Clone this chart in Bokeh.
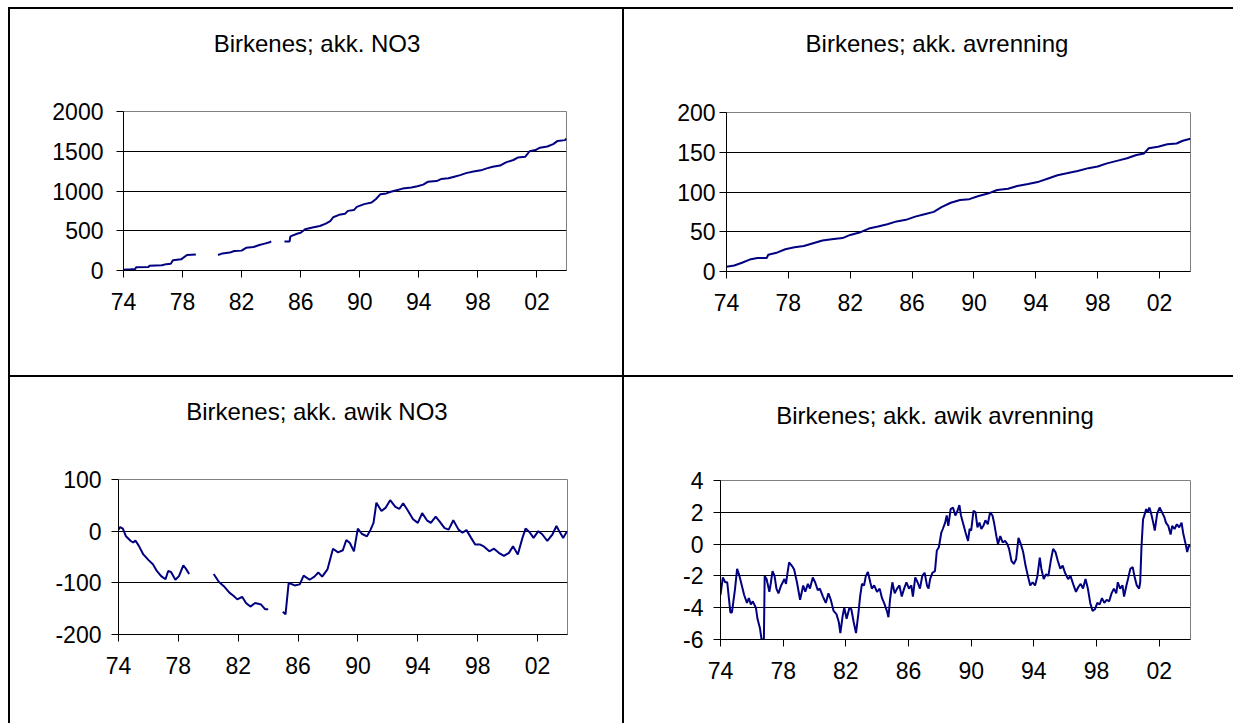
from bokeh.plotting import figure
from bokeh.layouts import row, column
from bokeh.models import Div, FixedTicker
from bokeh.embed import file_html
from bokeh.resources import INLINE

NAN = float("nan")

# ---------------- data ----------------
x_ticks = [1974, 1978, 1982, 1986, 1990, 1994, 1998, 2002]
x_tick_labels = ["74", "78", "82", "86", "90", "94", "98", "02"]

titles = ["Birkenes; akk. NO3", "Birkenes; akk. avrenning",
          "Birkenes; akk. awik NO3", "Birkenes; akk. awik avrenning"]

no3_years = [1974.00, 1974.50, 1974.80, 1974.85, 1975.70, 1975.75, 1976.60, 1976.90, 1977.20,
             1977.35, 1977.90, 1978.30, 1978.90, NAN,
             1980.40, 1980.70, 1981.20, 1981.50, 1982.00, 1982.30, 1982.80, 1983.20, 1983.50,
             1983.90, 1984.00, NAN,
             1984.90, 1985.25, 1985.30, 1985.80, 1986.00, 1986.30, 1986.80, 1987.30, 1987.70,
             1988.00, 1988.20, 1988.60, 1989.00, 1989.20, 1989.60, 1989.80, 1990.30, 1990.80,
             1991.10, 1991.40, 1991.80, 1992.10, 1992.50, 1992.90, 1993.50, 1993.90, 1994.30,
             1994.60, 1995.20, 1995.50, 1996.00, 1996.40, 1996.80, 1997.20, 1997.70, 1998.20,
             1998.60, 1999.00, 1999.50, 1999.90, 2000.40, 2000.70, 2001.20, 2001.50, 2001.90,
             2002.20, 2002.70, 2003.10, 2003.40, 2003.90, 2004.00]
no3_values = [10, 15, 20, 40, 45, 60, 65, 80, 85,
              130, 140, 195, 200, NAN,
              195, 215, 225, 245, 250, 285, 295, 320, 335,
              355, 365, NAN,
              365, 365, 430, 465, 475, 520, 540, 560, 590,
              620, 670, 700, 715, 750, 760, 800, 835, 855,
              900, 960, 970, 990, 1010, 1030, 1045, 1060, 1080,
              1115, 1125, 1150, 1160, 1180, 1200, 1225, 1245, 1260,
              1285, 1305, 1320, 1360, 1390, 1420, 1430, 1500, 1515,
              1545, 1560, 1590, 1630, 1640, 1660]

runoff_years = [1974.0, 1974.5, 1975.0, 1975.5, 1976.0, 1976.6, 1976.7, 1977.3, 1977.8, 1978.4,
                1979.0, 1979.6, 1980.2, 1980.8, 1981.5, 1982.0, 1982.6, 1983.2, 1983.8, 1984.4,
                1985.0, 1985.6, 1986.2, 1986.8, 1987.4, 1987.9, 1988.5, 1989.1, 1989.7, 1990.3,
                1990.9, 1991.5, 1992.2, 1992.8, 1993.5, 1994.2, 1994.8, 1995.4, 1996.0, 1996.7,
                1997.4, 1998.0, 1998.6, 1999.3, 1999.9, 2000.5, 2001.0, 2001.3, 2001.9, 2002.5,
                2003.1, 2003.5, 2004.0]
runoff_values = [6, 7.5, 11, 15, 17, 17, 21, 24, 28, 30.5,
                 32, 35.5, 39, 40.5, 42, 46, 49, 54, 56.5, 59.5,
                 63, 65, 69, 72, 75, 81, 86.5, 90, 91, 95,
                 98, 102.5, 104, 107.5, 110, 113, 117, 121, 123.5, 126.5,
                 130, 132, 136, 139.5, 142.5, 146.5, 148.5, 155, 157, 160,
                 161, 164.5, 167]

dev_no3_years = [1974.00, 1974.11, 1974.29, 1974.50, 1974.82, 1974.98, 1975.13, 1975.35, 1975.66,
                 1976.01, 1976.30, 1976.56, 1976.85, 1977.14, 1977.32, 1977.51, 1977.80, 1978.04,
                 1978.33, 1978.51, 1978.72, NAN,
                 1980.36, 1980.70, 1981.02, 1981.41, 1981.68, 1981.94, 1982.26, 1982.52, 1982.81,
                 1983.13, 1983.53, 1983.79, 1984.00, NAN,
                 1984.98, 1985.16, 1985.37, 1985.77, 1986.11, 1986.37, 1986.77, 1987.09, 1987.35,
                 1987.61, 1987.96, 1988.33, 1988.67, 1988.99, 1989.22, 1989.46, 1989.73, 1989.99,
                 1990.25, 1990.60, 1990.83, 1991.04, 1991.23, 1991.57, 1991.84, 1992.15, 1992.50,
                 1992.76, 1993.02, 1993.29, 1993.68, 1994.00, 1994.29, 1994.61, 1994.87, 1995.19,
                 1995.45, 1995.79, 1996.06, 1996.37, 1996.72, 1996.98, 1997.25, 1997.56, 1997.83,
                 1998.17, 1998.43, 1998.78, 1999.09, 1999.41, 1999.75, 2000.09, 2000.36, 2000.68,
                 2000.99, 2001.20, 2001.47, 2001.73, 2002.05, 2002.31, 2002.65, 2003.00, 2003.26,
                 2003.45, 2003.71, 2003.97]
dev_no3_values = [3, 8, 5, -10, -19, -22, -18, -28, -45,
                  -56, -64, -77, -87, -93, -77, -79, -94, -87,
                  -66, -73, -83, NAN,
                  -83, -98, -106, -119, -125, -132, -127, -139, -146,
                  -139, -142, -151, -151, NAN,
                  -156, -161, -100, -105, -103, -86, -94, -88, -80,
                  -88, -74, -34, -41, -37, -17, -23, -39, 5,
                  -5, -10, 2, 16, 55, 39, 45, 60, 47,
                  43, 54, 42, 23, 16, 35, 21, 16, 28,
                  19, 6, 3, 21, 3, -3, 2, -13, -26,
                  -26, -30, -39, -34, -42, -48, -42, -29, -45,
                  -13, 5, -2, -13, 0, -6, -19, -6, 10,
                  0, -13, 0]

dev_runoff_years = [1974.00, 1974.15, 1974.30, 1974.43, 1974.63, 1974.73, 1974.81, 1974.93, 1975.06,
                    1975.21, 1975.36, 1975.51, 1975.69, 1975.81, 1975.94, 1976.06, 1976.26, 1976.36,
                    1976.52, 1976.62, 1976.77, 1976.82, 1976.94, 1977.12, 1977.22, 1977.32, 1977.45,
                    1977.57, 1977.70, 1977.87, 1978.08, 1978.18, 1978.28, 1978.38, 1978.58, 1978.70,
                    1978.88, 1979.08, 1979.28, 1979.41, 1979.58, 1979.71, 1979.89, 1980.04, 1980.21,
                    1980.34, 1980.54, 1980.72, 1980.89, 1981.04, 1981.22, 1981.40, 1981.55, 1981.65,
                    1981.80, 1981.90, 1982.05, 1982.23, 1982.35, 1982.50, 1982.65, 1982.81, 1982.91,
                    1983.03, 1983.16, 1983.28, 1983.41, 1983.56, 1983.66, 1983.81, 1983.99, 1984.16,
                    1984.31, 1984.44, 1984.62, 1984.72, 1984.82, 1984.97, 1985.12, 1985.27, 1985.42,
                    1985.57, 1985.72, 1985.87, 1986.03, 1986.18, 1986.28, 1986.43, 1986.58, 1986.73,
                    1986.88, 1987.03, 1987.18, 1987.28, 1987.38, 1987.53, 1987.69, 1987.81, 1987.94,
                    1988.09, 1988.19, 1988.34, 1988.44, 1988.54, 1988.69, 1988.84, 1988.99, 1989.09,
                    1989.25, 1989.35, 1989.50, 1989.65, 1989.80, 1989.90, 1990.00, 1990.15, 1990.28,
                    1990.40, 1990.53, 1990.65, 1990.78, 1990.91, 1991.06, 1991.21, 1991.36, 1991.46,
                    1991.61, 1991.71, 1991.86, 1992.01, 1992.16, 1992.31, 1992.42, 1992.57, 1992.72,
                    1992.87, 1993.02, 1993.17, 1993.32, 1993.47, 1993.62, 1993.77, 1993.92, 1994.08,
                    1994.23, 1994.38, 1994.48, 1994.63, 1994.78, 1994.93, 1995.08, 1995.23, 1995.38,
                    1995.53, 1995.69, 1995.84, 1995.99, 1996.19, 1996.34, 1996.54, 1996.69, 1996.84,
                    1996.99, 1997.14, 1997.30, 1997.45, 1997.60, 1997.75, 1997.90, 1998.05, 1998.20,
                    1998.35, 1998.50, 1998.65, 1998.81, 1998.96, 1999.11, 1999.26, 1999.36, 1999.51,
                    1999.66, 1999.76, 1999.91, 2000.01, 2000.16, 2000.31, 2000.42, 2000.57, 2000.72,
                    2000.79, 2000.87, 2000.97, 2001.07, 2001.17, 2001.27, 2001.37, 2001.47, 2001.62,
                    2001.72, 2001.87, 2002.03, 2002.18, 2002.33, 2002.43, 2002.58, 2002.73, 2002.83,
                    2002.98, 2003.13, 2003.28, 2003.43, 2003.53, 2003.69, 2003.79, 2003.89, 2003.99]
dev_runoff_values = [-3.2, -2.1, -2.4, -2.4, -4.3, -4.3, -3.7, -2.8, -1.55,
                     -2.0, -2.6, -3.2, -3.7, -3.4, -3.8, -3.6, -4.0, -4.7,
                     -5.3, -6.0, -6.0, -2.0, -2.2, -3.0, -2.4, -1.7, -2.0,
                     -2.8, -3.1, -2.6, -2.2, -2.5, -1.8, -1.15, -1.4, -1.6,
                     -2.4, -3.5, -2.6, -3.0, -2.5, -2.8, -2.1, -2.4, -2.9,
                     -2.8, -3.3, -3.7, -3.1, -3.5, -4.2, -4.4, -4.9, -5.6,
                     -4.5, -4.0, -4.7, -4.0, -4.1, -4.9, -5.6, -4.3, -3.3,
                     -2.5, -2.6, -2.0, -1.75, -2.4, -2.8, -2.6, -3.0, -2.8,
                     -3.4, -3.7, -4.2, -4.6, -3.5, -2.4, -3.1, -2.8, -2.6,
                     -3.3, -2.8, -2.4, -2.8, -2.6, -3.3, -2.1, -2.4, -2.8,
                     -2.0, -1.8, -2.6, -2.8, -2.2, -1.8, -1.7, -0.4, -0.2,
                     0.7, 0.95, 1.35, 1.8, 1.15, 2.2, 2.3, 1.8, 2.0,
                     2.45, 1.8, 1.25, 0.7, 0.2, 0.95, 0.85, 2.1, 2.0,
                     1.05, 1.35, 0.95, 1.15, 1.5, 1.25, 2.0, 1.8, 1.35,
                     0.5, 0.0, 0.5, 0.1, 0.2, 0.0, -0.3, -1.05, -1.25,
                     -0.95, 0.4, 0.0, -0.5, -1.35, -2.0, -2.6, -2.4, -2.6,
                     -2.0, -0.85, -1.55, -2.2, -1.9, -2.0, -1.05, -0.3, -0.5,
                     -1.05, -1.55, -1.35, -1.8, -2.2, -2.0, -2.6, -3.0, -2.7,
                     -2.5, -2.8, -2.2, -2.8, -3.7, -4.2, -4.1, -3.7, -3.8,
                     -3.4, -3.7, -3.5, -3.6, -3.1, -2.8, -3.1, -2.4, -2.8,
                     -2.6, -3.3, -2.6, -2.2, -1.55, -1.45, -2.0, -2.6, -2.8,
                     -2.4, -0.2, 1.55, 1.85, 2.2, 2.0, 2.3, 2.0, 1.35,
                     0.85, 1.9, 2.3, 2.0, 1.7, 1.35, 1.15, 0.6, 1.15,
                     0.95, 1.25, 1.05, 1.35, 0.7, 0.0, -0.5, -0.1, -0.15]

# ---------------- styling helpers ----------------
FONT = "Liberation Sans"
LINE_COLOR = "#000080"


def make_panel(xs, ys, y_start, y_end, y_ticks, grid_ticks, width, height,
               border_left, border_right, border_top, border_bottom, y_standoff):
    p = figure(width=width, height=height, output_backend="svg", toolbar_location=None,
               x_range=(1974, 2004), y_range=(y_start, y_end),
               min_border_left=border_left, min_border_right=border_right,
               min_border_top=border_top, min_border_bottom=border_bottom)
    p.background_fill_color = "white"
    p.border_fill_color = "white"
    p.outline_line_color = "#808080"
    p.outline_line_width = 1

    p.xgrid.visible = False
    p.ygrid.ticker = FixedTicker(ticks=grid_ticks)
    p.ygrid.grid_line_color = "black"
    p.ygrid.grid_line_width = 1

    for ax in (p.xaxis, p.yaxis):
        ax.axis_line_color = "black"
        ax.axis_line_width = 1
        ax.major_tick_line_color = "black"
        ax.major_tick_out = 7
        ax.major_tick_in = 0
        ax.minor_tick_line_color = None
        ax.major_label_text_font = FONT
        ax.major_label_text_font_size = "23px"
        ax.major_label_text_color = "black"

    p.xaxis.ticker = FixedTicker(ticks=x_ticks)
    p.xaxis.major_label_overrides = {t: lab for t, lab in zip(x_ticks, x_tick_labels)}
    p.xaxis.major_label_standoff = 15
    p.yaxis.ticker = FixedTicker(ticks=y_ticks)
    p.yaxis.major_label_overrides = {t: str(t) for t in y_ticks}
    p.yaxis.major_label_standoff = y_standoff

    p.line(xs, ys, line_color=LINE_COLOR, line_width=2)
    return p


def title_div(text, width, height, line_h, shift):
    html = (f'<div style="width: {width}px; box-sizing: border-box; '
            'font-family: \'Liberation Sans\', Arial, sans-serif; '
            'font-size: 24px; color: black; text-align: center; white-space: nowrap; '
            f'line-height: {line_h}px; padding-left: {shift}px; margin: 0;">{text}</div>')
    return Div(text=html, width=width, height=height, margin=0,
               styles={"font-family": "'Liberation Sans', Arial, sans-serif",
                       "font-size": "24px", "line-height": f"{line_h}px",
                       "background-color": "white"})


TOP_H = 366
BOT_H = 346
LEFT_W = 612
RIGHT_W = 609
T_TOP = 70
T_BOT = 78

p1 = make_panel(no3_years, no3_values, 0, 2000, [0, 500, 1000, 1500, 2000],
                [500, 1000, 1500], LEFT_W, TOP_H - T_TOP, 113, 56, 102 - T_TOP, 105, 13)
p2 = make_panel(runoff_years, runoff_values, 0, 200, [0, 50, 100, 150, 200],
                [50, 100, 150], RIGHT_W, TOP_H - T_TOP, 102, 43, 103 - T_TOP, 104, 4)
p3 = make_panel(dev_no3_years, dev_no3_values, -200, 100, [-200, -100, 0, 100],
                [-100, 0], LEFT_W, BOT_H - T_BOT, 108, 55, 102 - T_BOT, 89, 10)
p4 = make_panel(dev_runoff_years, dev_runoff_values, -6, 4, [-6, -4, -2, 0, 2, 4],
                [-4, -2, 0, 2], RIGHT_W, BOT_H - T_BOT, 96, 43, 103 - T_BOT, 84, 10)

cell1 = column(title_div(titles[0], LEFT_W, T_TOP, 70, 2), p1, spacing=0)
cell2 = column(title_div(titles[1], RIGHT_W, T_TOP, 69, 17), p2, spacing=0)
cell3 = column(title_div(titles[2], LEFT_W, T_BOT, 70, 2), p3, spacing=0)
cell4 = column(title_div(titles[3], RIGHT_W, T_BOT, 77, 13), p4, spacing=0)


def hline():
    return Div(text="", width=LEFT_W + RIGHT_W + 4, height=2, margin=0,
               styles={"background-color": "black"})


def vline(h):
    return Div(text="", width=2, height=h, margin=0, styles={"background-color": "black"})


layout = column(
    hline(),
    row(vline(TOP_H), cell1, vline(TOP_H), cell2, spacing=0),
    hline(),
    row(vline(BOT_H), cell3, vline(BOT_H), cell4, spacing=0),
    spacing=0,
    margin=(7, 0, 0, 8),
)

open("out.html", "w").write(file_html(layout, INLINE))
